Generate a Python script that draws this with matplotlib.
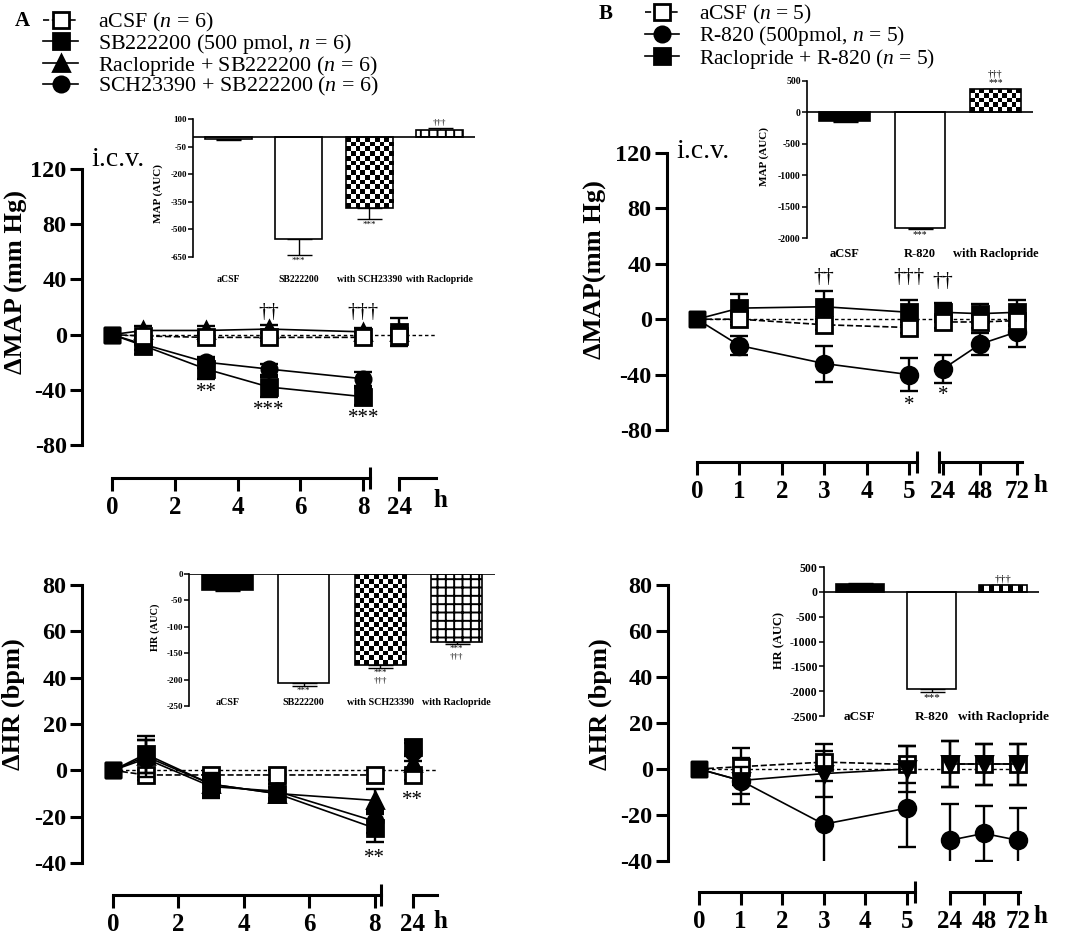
import numpy as np
import matplotlib
matplotlib.use('Agg')
import matplotlib.pyplot as plt
from matplotlib.lines import Line2D
from matplotlib.transforms import blended_transform_factory

# ---------------- data ----------------
a_hours = [0, 1, 3, 5, 8, 24]
a_map_acsf = [0, -1, -2, -2, -2, -1]
a_map_acsf_err = [0, 3, 3, 3, 3, 3]
a_map_sb = [0, -8, -25, -38, -45, 2]
a_map_sb_err = [0, 6, 7, 7, 6, 10]
a_map_rac = [0, 3, 3, 4, 2, 2]
a_map_rac_err = [0, 3, 3, 3, 3, 3]
a_map_sch = [0, -7, -20, -25, -32, 0]
a_map_sch_err = [0, 4, 4, 4, 5, 4]

a_hr_acsf = [0, -2, -2, -2, -2, -2]
a_hr_acsf_err = [0, 2, 2, 2, 2, 2]
a_hr_sb = [0, 7, -6, -10, -25, 10]
a_hr_sb_err = [0, 8, 5, 3, 6, 3]
a_hr_rac = [0, 6, -6, -10, -13, 3]
a_hr_rac_err = [0, 7, 4, 3, 5, 3]
a_hr_sch = [0, 5, -7, -9, -22, 8]
a_hr_sch_err = [0, 8, 5, 3, 5, 4]

b_hours = [0, 1, 3, 5, 24, 48, 72]
b_map_acsf = [0, 0, -4, -6, -2, -2, -1]
b_map_acsf_err = [0, 4, 4, 4, 4, 4, 4]
b_map_r820 = [0, -19, -32, -40, -36, -18, -9]
b_map_r820_err = [0, 7, 13, 12, 10, 8, 11]
b_map_rac = [0, 8, 9, 5, 5, 4, 5]
b_map_rac_err = [0, 10, 11, 9, 7, 7, 9]

b_hr_acsf = [0, 1, 3, 2, 2, 2, 2]
b_hr_acsf_err = [0, 8, 8, 8, 10, 9, 9]
b_hr_r820 = [0, -5, -24, -17, -31, -28, -31]
b_hr_r820_err = [0, 10, 24, 17, 16, 12, 14]
b_hr_rac = [0, -5, -2, 0, 2, 2, 2]
b_hr_rac_err = [0, 6, 10, 10, 10, 9, 9]

a_auc_names = ['aCSF', 'SB222200', 'with SCH23390', 'with Raclopride']
a_map_auc = [-8, -550, -385, 40]
a_map_auc_err = [8, 90, 60, 10]
a_hr_auc = [-30, -206, -172, -128]
a_hr_auc_err = [2, 6, 6, 4]
b_auc_names = ['aCSF', 'R-820', 'with Raclopride']
b_map_auc = [-140, -1840, 370]
b_map_auc_err = [10, 15, 10]
b_hr_auc = [160, -1960, 130]
b_hr_auc_err = [10, 60, 10]

# ---------------- style ----------------
plt.rcParams['font.family'] = ['Liberation Serif', 'DejaVu Serif']
plt.rcParams['mathtext.fontset'] = 'custom'
plt.rcParams['mathtext.rm'] = 'Liberation Serif'
plt.rcParams['mathtext.it'] = 'Liberation Serif:italic'
plt.rcParams['hatch.linewidth'] = 1.4

W, H = 1066, 938
fig = plt.figure(figsize=(W / 100, H / 100), dpi=100)


def px(l, t, r, b):
    return [l / W, 1 - b / H, (r - l) / W, (b - t) / H]


def a_pos(h):
    return h if h <= 8 else 9.15


def b_pos_map(h):
    late = [24, 48, 72]
    return h if h <= 5 else 5.8 + 0.88 * late.index(h)


def b_pos_hr(h):
    late = [24, 48, 72]
    return h if h <= 5 else 6.03 + 0.82 * late.index(h)


def main_panel(rect, xlim, ylim, yticks, pos, hours, last_early, ticks1, ticks2,
               seg1, seg2, xoff, ylabel, ylab_xy, series, annots, h_px):
    ax = fig.add_axes(px(*rect))
    ax.set_xlim(xlim)
    ax.set_ylim(ylim)
    for s in ['top', 'right']:
        ax.spines[s].set_visible(False)
    ax.spines['left'].set_linewidth(2.2)
    ax.spines['bottom'].set_linewidth(2.2)
    ax.spines['bottom'].set_position(('outward', xoff))
    ax.spines['bottom'].set_bounds(*seg1)
    ax.set_yticks(yticks, [str(v) for v in yticks], fontweight='bold', fontsize=17.5)
    ax.set_xticks(ticks1, [str(v) for v in ticks1], fontweight='bold', fontsize=18)
    ax.set_xticks([seg1[1]], minor=True)
    ax.tick_params(axis='both', which='major', width=2.2, length=9, pad=2)
    ax.tick_params(axis='x', which='major', pad=4)
    ax.tick_params(axis='x', which='minor', direction='inout', length=16, width=2.2)
    ax.set_ylabel(ylabel, fontsize=19, fontweight='bold')
    ax.yaxis.set_label_coords(*ylab_xy)

    tw = ax.twiny()
    tw.set_xlim(xlim)
    for s in ['top', 'right', 'left']:
        tw.spines[s].set_visible(False)
    tw.xaxis.set_ticks_position('bottom')
    tw.spines['bottom'].set_visible(True)
    tw.spines['bottom'].set_linewidth(2.2)
    tw.spines['bottom'].set_position(('outward', xoff))
    tw.spines['bottom'].set_bounds(*seg2)
    tw.set_xticks([pos(h) for h in ticks2], [str(h) for h in ticks2],
                  fontweight='bold', fontsize=18)
    tw.set_xticks([seg2[0]], minor=True)
    tw.tick_params(axis='x', which='major', width=2.2, length=9, pad=4)
    tw.tick_params(axis='x', which='minor', direction='inout', length=16, width=2.2)

    x = [pos(h) for h in hours]
    ax.hlines(0, x[0], seg2[1], colors='black', linestyles=(0, (2.5, 2)), lw=1.0, zorder=1)
    n1 = hours.index(last_early) + 1
    for vals, errs, marker, face, ls, ms, first_marker, z in series:
        for i0, i1 in [(0, n1), (n1, len(hours))]:
            xs = x[i0:i1]
            vs = vals[i0:i1]
            es = errs[i0:i1]
            keep = [i for i in range(len(xs)) if es[i] > 0]
            ax.errorbar([xs[i] for i in keep], [vs[i] for i in keep],
                        yerr=[es[i] for i in keep], fmt='none', ecolor='black',
                        elinewidth=1.7, capsize=6.5, capthick=1.7, zorder=z)
            ax.plot(xs, vs, ls=ls, color='black', lw=1.2, zorder=z + 0.1)
            start = 1 if i0 == 0 else 0
            ax.plot(xs[start:], vs[start:], ls='none', marker=marker, ms=ms, mfc=face,
                    mec='black', mew=2, zorder=z + 0.2)
        ax.plot(x[0], vals[0], ls='none', marker=first_marker, ms=12, mfc='black',
                mec='black', zorder=z + 0.2)
    for txt, h, y in annots:
        ax.text(pos(h), y, txt, ha='center', va='center', fontsize=15)
    fig.text(h_px[0] / W, 1 - h_px[1] / H, 'h', fontsize=18, fontweight='bold',
             ha='center', va='center')
    return ax


def draw_checker(ax, bar, cell=4.7):
    x0, y0 = bar.get_x(), bar.get_y()
    w, h = bar.get_width(), bar.get_height()
    p0 = ax.transData.transform((x0, y0))
    p1 = ax.transData.transform((x0 + w, y0 + h))
    nx = max(1, int(round(abs(p1[0] - p0[0]) / cell)))
    ny = max(1, int(round(abs(p1[1] - p0[1]) / cell)))
    img = np.indices((ny, nx)).sum(axis=0) % 2
    im = ax.imshow(img, cmap='gray', vmin=0, vmax=1, aspect='auto', interpolation='nearest',
                   extent=(x0, x0 + w, min(y0, y0 + h), max(y0, y0 + h)), zorder=1)
    im.set_clip_path(bar)


def inset(rect, names, vals, errs, styles, ylim, yticks, ylabel, ylab_xy, name_y, annots,
          fs_tick, fs_name, fs_ylab, fs_note):
    ax = fig.add_axes(px(*rect))
    n = len(vals)
    xlim = (-0.5, n - 0.5)
    ax.set_xlim(xlim)
    ax.set_ylim(ylim)
    for s in ['top', 'right', 'bottom']:
        ax.spines[s].set_visible(False)
    ax.spines['left'].set_linewidth(1.2)
    ax.set_xticks([])
    ax.set_yticks(yticks, [str(v) for v in yticks], fontweight='bold', fontsize=fs_tick)
    ax.tick_params(axis='y', length=3.5, width=1.1, pad=1)
    ax.set_ylabel(ylabel, fontsize=fs_ylab, fontweight='bold')
    ax.yaxis.set_label_coords(*ylab_xy)
    xs = np.arange(n)
    lo = [e if v < 0 else 0 for v, e in zip(vals, errs)]
    hi = [e if v >= 0 else 0 for v, e in zip(vals, errs)]
    ax.errorbar(xs, vals, yerr=[lo, hi], fmt='none', ecolor='black', elinewidth=1.0,
                capsize=9, capthick=1.0, zorder=1)
    for i, (v, st) in enumerate(zip(vals, styles)):
        face = 'black' if st == 'black' else ('none' if st == 'checker' else 'white')
        bar = ax.bar(xs[i], v, width=0.67, facecolor=face, edgecolor='black', lw=1.2,
                     hatch='++' if st == 'grid' else None, zorder=2)[0]
        if st == 'checker':
            draw_checker(ax, bar)
    ax.set_xlim(xlim)
    ax.set_ylim(ylim)
    ax.axhline(0, color='black', lw=1.2, zorder=3)
    tr = blended_transform_factory(ax.transData, ax.transAxes)
    for i, nm in enumerate(names):
        ax.text(xs[i], name_y, nm, transform=tr, ha='center', va='center',
                fontsize=fs_name, fontweight='bold')
    for i, txt, side in annots:
        v = vals[i]
        e = errs[i]
        if side == 'below':
            ax.annotate(txt, (xs[i], v - e), xytext=(0, -1), textcoords='offset points',
                        ha='center', va='top', fontsize=fs_note, linespacing=0.95,
                        annotation_clip=False)
        else:
            ax.annotate(txt, (xs[i], v + e), xytext=(0, 1), textcoords='offset points',
                        ha='center', va='bottom', fontsize=fs_note, linespacing=0.95,
                        annotation_clip=False)
    return ax


# ---------------- panel A ----------------
main_panel((82, 169, 445, 445), (-0.955, 10.6), (-80, 120), [120, 80, 40, 0, -40, -80],
           a_pos, a_hours, 8, [0, 2, 4, 6, 8], [24], (0, 8.22), (9.15, 10.3), 23.8,
           '\u0394MAP (mm Hg)', (-0.149, 0.59),
           [(a_map_sb, a_map_sb_err, 's', 'black', '-', 12, 's', 3),
            (a_map_rac, a_map_rac_err, '^', 'black', '-', 12, 's', 3),
            (a_map_sch, a_map_sch_err, 'o', 'black', '-', 11, 's', 3),
            (a_map_acsf, a_map_acsf_err, 's', 'white', '--', 12, 's', 4)],
           [('**', 3, -42), ('***', 5, -55), ('***', 8, -61), ('\u2020\u2020', 5, 16),
            ('\u2020\u2020\u2020', 8, 16)],
           (440, 500))

main_panel((82, 585, 445, 863), (-0.947, 10.14), (-40, 80), [80, 60, 40, 20, 0, -20, -40],
           a_pos, a_hours, 8, [0, 2, 4, 6, 8], [24], (0, 8.2), (9.15, 9.9), 23,
           '\u0394HR (bpm)', (-0.157, 0.57),
           [(a_hr_acsf, a_hr_acsf_err, 's', 'white', '--', 12, 's', 3),
            (a_hr_sb, a_hr_sb_err, 's', 'black', '-', 12, 's', 4),
            (a_hr_rac, a_hr_rac_err, '^', 'black', '-', 12, 's', 4),
            (a_hr_sch, a_hr_sch_err, 'o', 'black', '-', 11, 's', 4)],
           [('**', 8.8, -13), ('**', 8, -38)],
           (440, 921))

# ---------------- panel B ----------------
main_panel((667, 153, 1045, 430), (-0.708, 8.21), (-80, 120), [120, 80, 40, 0, -40, -80],
           b_pos_map, b_hours, 5, [0, 1, 2, 3, 4, 5], [24, 48, 72], (0, 5.2), (5.72, 7.66), 23,
           '\u0394MAP(mm Hg)', (-0.159, 0.58),
           [(b_map_r820, b_map_r820_err, 'o', 'black', '-', 12, 's', 3),
            (b_map_rac, b_map_rac_err, 's', 'black', '-', 12, 's', 3),
            (b_map_acsf, b_map_acsf_err, 's', 'white', '--', 12, 's', 4)],
           [('\u2020\u2020', 3, 30), ('\u2020\u2020\u2020', 5, 30), ('\u2020\u2020', 24, 27),
            ('*', 5, -62), ('*', 24, -55)],
           (1040, 486))

main_panel((668, 585, 1045, 861), (-0.745, 8.32), (-40, 80), [80, 60, 40, 20, 0, -20, -40],
           b_pos_hr, b_hours, 5, [0, 1, 2, 3, 4, 5], [24, 48, 72], (0, 5.19), (6.03, 7.72), 22.3,
           '\u0394HR (bpm)', (-0.149, 0.57),
           [(b_hr_r820, b_hr_r820_err, 'o', 'black', '-', 12, 's', 3),
            (b_hr_acsf, b_hr_acsf_err, 's', 'white', '--', 12, 's', 4),
            (b_hr_rac, b_hr_rac_err, 'v', 'black', '-', 11, 's', 5)],
           [],
           (1040, 916))

# ---------------- insets ----------------
inset((193, 119, 475, 257), a_auc_names, a_map_auc, a_map_auc_err,
      ['white', 'white', 'checker', 'grid'], (-650, 100), [100, -50, -200, -350, -500, -650],
      'MAP (AUC)', (-0.106, 0.46), -0.16,
      [(1, '***', 'below'), (2, '***', 'below'), (3, '\u2020\u2020\u2020', 'above')],
      6.5, 7, 8, 6.5)

inset((189, 574, 495, 706), a_auc_names, a_hr_auc, a_hr_auc_err,
      ['black', 'white', 'checker', 'grid'], (-250, 0), [0, -50, -100, -150, -200, -250],
      'HR (AUC)', (-0.095, 0.6), 0.03,
      [(1, '***', 'below'), (2, '***\n\u2020\u2020\u2020', 'below'),
       (3, '***\n\u2020\u2020\u2020', 'below')],
      6.5, 7.2, 7.5, 6.5)

inset((807, 81, 1033, 238), b_auc_names, b_map_auc, b_map_auc_err,
      ['black', 'white', 'checker'], (-2000, 500), [500, 0, -500, -1000, -1500, -2000],
      'MAP (AUC)', (-0.17, 0.52), -0.10,
      [(1, '***', 'below'), (2, '\u2020\u2020\u2020\n***', 'above')],
      7, 9, 8, 7)

inset((824, 567, 1039, 716), b_auc_names, b_hr_auc, b_hr_auc_err,
      ['black', 'white', 'checker'], (-2500, 500), [500, 0, -500, -1000, -1500, -2000, -2500],
      'HR (AUC)', (-0.18, 0.51), -0.007,
      [(1, '***', 'below'), (2, '\u2020\u2020\u2020', 'above')],
      8.5, 9.5, 9, 8)

# ---------------- legends and labels ----------------
def handle(marker, face, ls):
    return Line2D([], [], color='black', ls=ls, lw=1.2, marker=marker, ms=11,
                  mfc=face, mec='black', mew=2)


fig.legend([handle('s', 'white', '--'), handle('s', 'black', '-'),
            handle('^', 'black', '-'), handle('o', 'black', '-')],
           ['aCSF ($n$ = 6)', 'SB222200 (500 pmol, $n$ = 6)',
            'Raclopride + SB222200 ($n$ = 6)', 'SCH23390 + SB222200 ($n$ = 6)'],
           loc='upper left', bbox_to_anchor=(43 / W, 1 - 11 / H), frameon=False,
           borderpad=0, borderaxespad=0, fontsize=15.8, handlelength=1.6,
           handletextpad=0.9, labelspacing=-0.1)
fig.legend([handle('s', 'white', '--'), handle('o', 'black', '-'),
            handle('s', 'black', '-')],
           ['aCSF ($n$ = 5)', 'R-820 (500pmol, $n$ = 5)',
            'Raclopride + R-820 ($n$ = 5)'],
           loc='upper left', bbox_to_anchor=(645 / W, 1 - 3 / H), frameon=False,
           borderpad=0, borderaxespad=0, fontsize=15.5, handlelength=1.6,
           handletextpad=0.9, labelspacing=-0.08)

fig.text(22 / W, 1 - 21 / H, 'A', fontsize=15, fontweight='bold', ha='center', va='center')
fig.text(606 / W, 1 - 14 / H, 'B', fontsize=15, fontweight='bold', ha='center', va='center')
fig.text(118 / W, 1 - 160 / H, 'i.c.v.', fontsize=20, ha='center', va='center')
fig.text(703 / W, 1 - 151 / H, 'i.c.v.', fontsize=20, ha='center', va='center')

fig.savefig('out.png', dpi=100)
